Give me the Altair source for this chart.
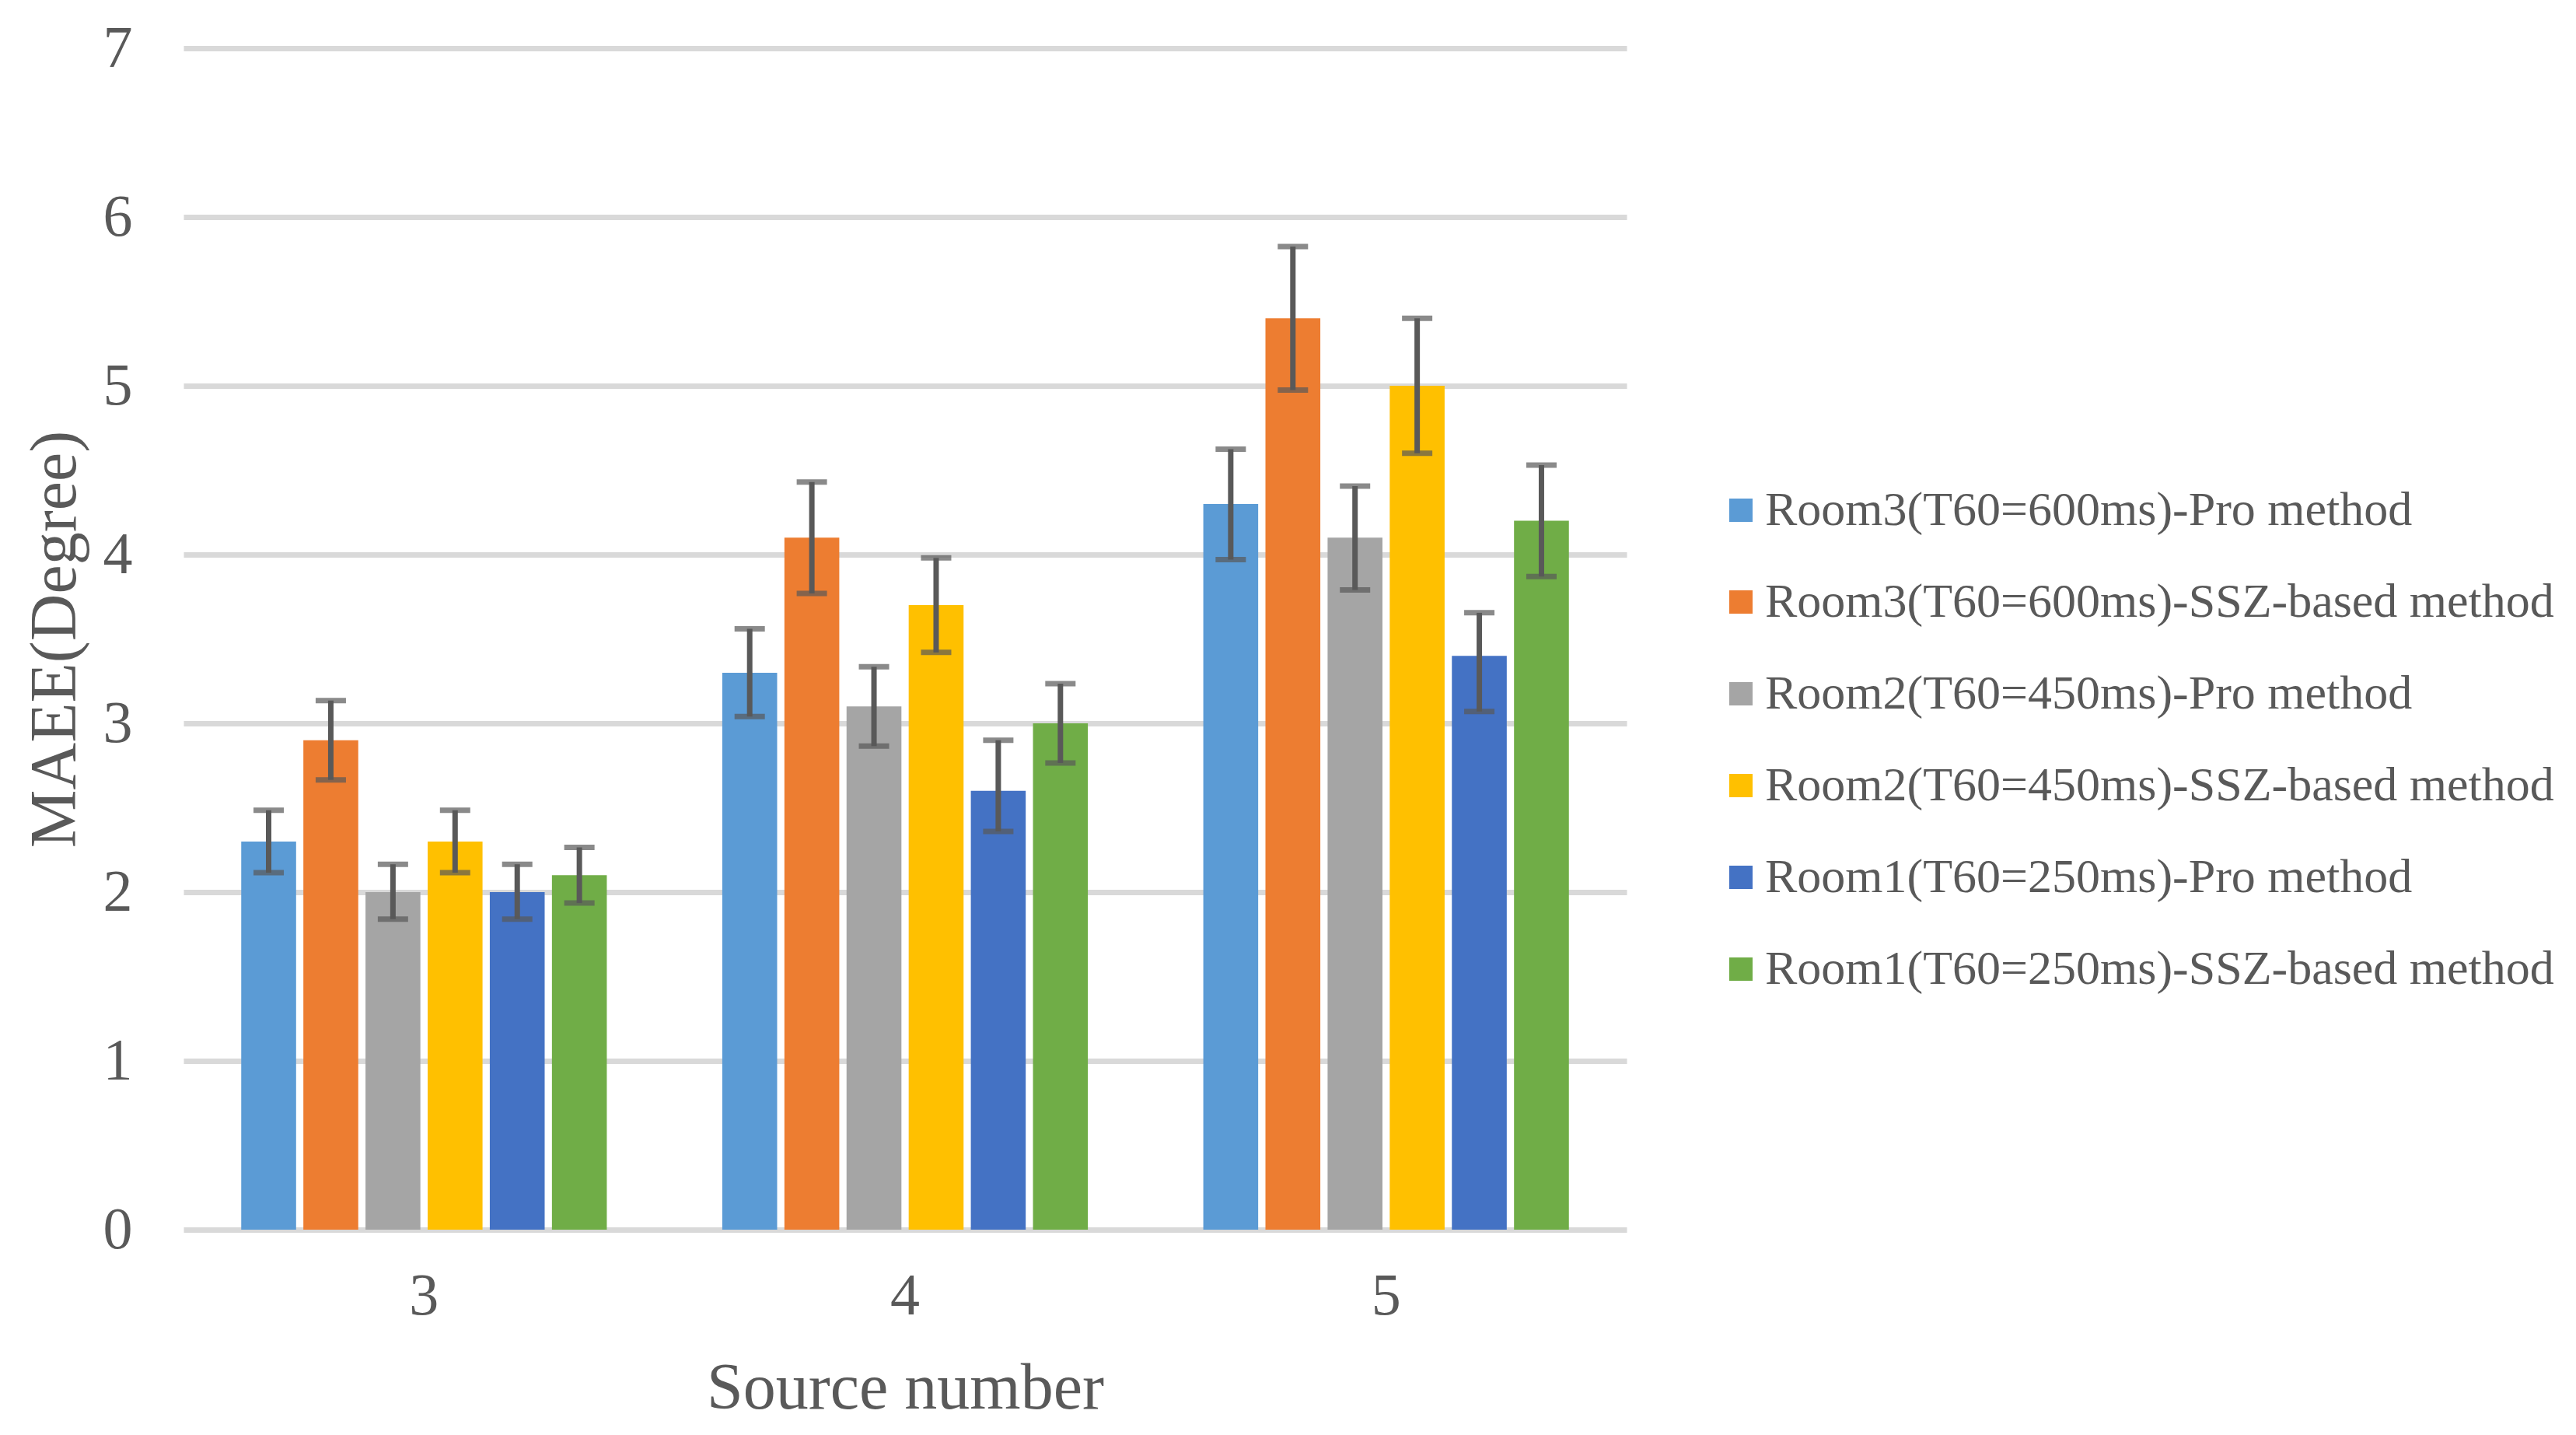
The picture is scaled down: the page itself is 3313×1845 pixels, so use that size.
import altair as alt
import pandas as pd

categories = ["3", "4", "5"]
series = [
    "Room3(T60=600ms)-Pro method",
    "Room3(T60=600ms)-SSZ-based method",
    "Room2(T60=450ms)-Pro method",
    "Room2(T60=450ms)-SSZ-based method",
    "Room1(T60=250ms)-Pro method",
    "Room1(T60=250ms)-SSZ-based method",
]
colors = ["#5B9BD5", "#ED7D31", "#A5A5A5", "#FFC000", "#4472C4", "#70AD47"]

values = [
    [2.3, 3.3, 4.3],
    [2.9, 4.1, 5.4],
    [2.0, 3.1, 4.1],
    [2.3, 3.7, 5.0],
    [2.0, 2.6, 3.4],
    [2.1, 3.0, 4.2],
]
err_low = [
    [2.115, 3.04, 3.97],
    [2.665, 3.77, 4.975],
    [1.84, 2.865, 3.79],
    [2.115, 3.42, 4.60],
    [1.84, 2.36, 3.07],
    [1.935, 2.765, 3.87],
]
err_high = [
    [2.485, 3.56, 4.625],
    [3.135, 4.43, 5.825],
    [2.165, 3.335, 4.405],
    [2.485, 3.98, 5.40],
    [2.165, 2.90, 3.655],
    [2.265, 3.235, 4.53],
]
y_ticks = [0, 1, 2, 3, 4, 5, 6, 7]

rows = []
for si, s in enumerate(series):
    for ci, c in enumerate(categories):
        rows.append({"cat": c, "series": s, "value": values[si][ci],
                     "lo": err_low[si][ci], "hi": err_high[si][ci]})
df = pd.DataFrame(rows)

FONT = "Liberation Serif"
TXT = "#595959"

x_enc = alt.X("cat:N", sort=categories,
              scale=alt.Scale(paddingInner=0.24, paddingOuter=0.12),
              axis=alt.Axis(title="Source number", labelAngle=0, labelFontSize=76,
                            labelFont=FONT, labelColor=TXT, labelPadding=48,
                            titleFontSize=84, titleFont=FONT, titleColor=TXT,
                            titleFontWeight="normal", titlePadding=40,
                            domain=False, ticks=False, grid=False))
xo_enc = alt.XOffset("series:N", sort=series,
                     scale=alt.Scale(paddingInner=0.117, paddingOuter=0))

base = alt.Chart(df)

bars = base.mark_bar().encode(
    x=x_enc,
    xOffset=xo_enc,
    y=alt.Y("value:Q",
            scale=alt.Scale(domain=[0, 7], nice=False),
            axis=alt.Axis(title="MAEE(Degree)", values=y_ticks, format="d",
                          labelFontSize=76, labelFont=FONT, labelColor=TXT,
                          labelPadding=66, titleFontSize=84, titleFont=FONT,
                          titleColor=TXT, titleFontWeight="normal", titlePadding=18,
                          domain=False, ticks=False, grid=True,
                          gridColor="#D9D9D9", gridWidth=7)),
    color=alt.Color("series:N", sort=series,
                    scale=alt.Scale(domain=series, range=colors),
                    legend=alt.Legend(title=None, orient="none", legendX=1972, legendY=563,
                                      symbolType="square", symbolSize=900,
                                      symbolStrokeWidth=0, labelFontSize=62,
                                      labelFont=FONT, labelColor=TXT, labelOffset=0,
                                      labelLimit=3000, rowPadding=56)),
)

rules = base.mark_rule(color="#595959", strokeWidth=7).encode(
    x=alt.X("cat:N", sort=categories),
    xOffset=alt.XOffset("series:N", sort=series),
    y="lo:Q",
    y2="hi:Q",
)
cap_lo = base.mark_tick(color="#595959", thickness=7, size=39, orient="horizontal").encode(
    x=alt.X("cat:N", sort=categories),
    xOffset=alt.XOffset("series:N", sort=series),
    y="lo:Q",
)
cap_hi = base.mark_tick(color="#595959", thickness=7, size=39, orient="horizontal").encode(
    x=alt.X("cat:N", sort=categories),
    xOffset=alt.XOffset("series:N", sort=series),
    y="hi:Q",
)

chart = alt.layer(bars, rules, cap_lo, cap_hi).properties(
    width=1856, height=1519,
    autosize=alt.AutoSizeParams(type="none"),
    padding={"left": 228, "top": 54, "right": 1213, "bottom": 256},
    background="white",
).configure_view(stroke=None)

chart.save("out.html", embed_options={"renderer": "svg", "actions": False})
